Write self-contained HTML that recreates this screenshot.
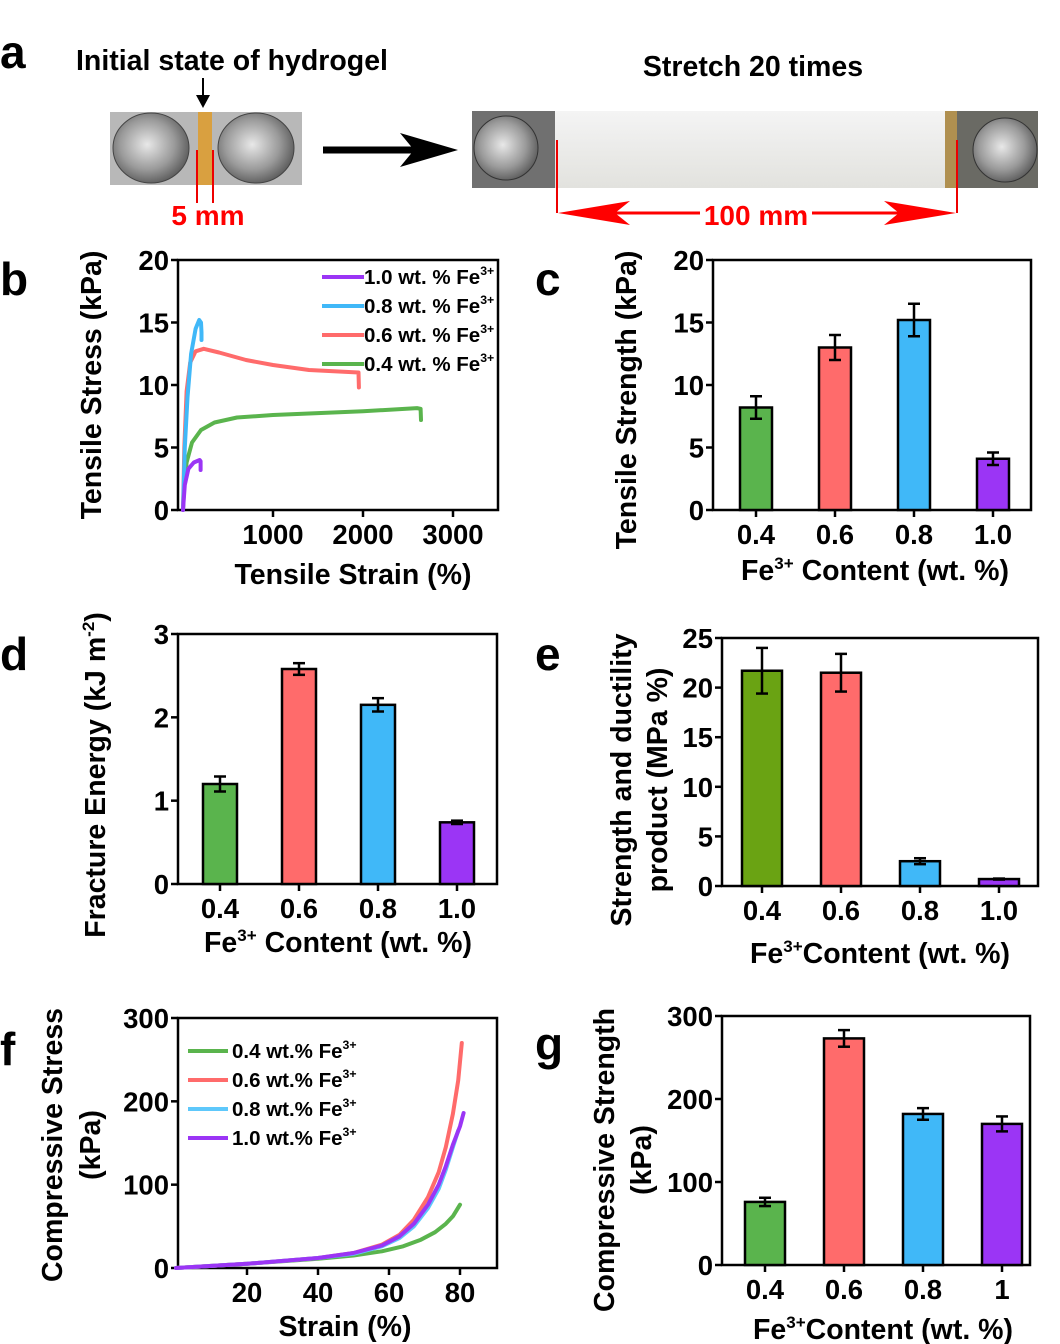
<!DOCTYPE html>
<html><head><meta charset="utf-8"><style>
html,body{margin:0;padding:0;background:#fff;}
svg{display:block;font-family:"Liberation Sans",Arial,sans-serif;font-weight:bold;}
</style></head><body>
<svg id="fig" width="1060" height="1344" viewBox="0 0 1060 1344" xmlns="http://www.w3.org/2000/svg">
<defs>
<radialGradient id="metal" cx="0.45" cy="0.45" r="0.6"><stop offset="0" stop-color="#e8e8e8"/><stop offset="0.6" stop-color="#9a9a9a"/><stop offset="1" stop-color="#555"/></radialGradient>
<linearGradient id="gel" x1="0" y1="0" x2="0" y2="1"><stop offset="0" stop-color="#f4f4f4"/><stop offset="1" stop-color="#e2e2de"/></linearGradient>
</defs>
<g>
<text x="0" y="68" font-size="46">a</text>
<text x="232" y="70" font-size="28.5" text-anchor="middle">Initial state of hydrogel</text>
<text x="753" y="76" font-size="28.5" text-anchor="middle">Stretch 20 times</text>
<g>
<rect x="110" y="112" width="192" height="73" fill="#b8b8b8"/>
<ellipse cx="151" cy="148" rx="38" ry="35" fill="url(#metal)" stroke="#444"/>
<ellipse cx="256" cy="148" rx="38" ry="35" fill="url(#metal)" stroke="#444"/>
<rect x="198" y="112" width="14" height="73" fill="#d9a040"/>
</g>
<line x1="203" y1="78" x2="203" y2="105" stroke="#000" stroke-width="2"/>
<polygon points="196,95 210,95 203,108" fill="#000"/>
<line x1="197" y1="150" x2="197" y2="203" stroke="#e00" stroke-width="2"/>
<line x1="213" y1="150" x2="213" y2="203" stroke="#e00" stroke-width="2"/>
<text x="208" y="225" font-size="28" fill="#f00" text-anchor="middle">5 mm</text>
<line x1="323" y1="150" x2="420" y2="150" stroke="#000" stroke-width="7"/>
<polygon points="400,133 458,150 400,167 414,150" fill="#000"/>
<g>
<rect x="472" y="111" width="566" height="77" fill="url(#gel)"/>
<rect x="472" y="111" width="83" height="77" fill="#707070"/>
<ellipse cx="506" cy="148" rx="32" ry="32" fill="url(#metal)" stroke="#333"/>
<rect x="945" y="111" width="93" height="77" fill="#6a6a64"/>
<rect x="945" y="111" width="12" height="77" fill="#b09050"/>
<ellipse cx="1005" cy="150" rx="32" ry="32" fill="url(#metal)" stroke="#333"/>
</g>
<line x1="557" y1="140" x2="557" y2="213" stroke="#e00" stroke-width="2"/>
<line x1="957" y1="140" x2="957" y2="213" stroke="#e00" stroke-width="2"/>
<line x1="580" y1="213" x2="700" y2="213" stroke="#f00" stroke-width="3"/>
<line x1="812" y1="213" x2="935" y2="213" stroke="#f00" stroke-width="3"/>
<polygon points="558,213 630,201 615,213 630,225" fill="#f00"/>
<polygon points="956,213 884,201 899,213 884,225" fill="#f00"/>
<text x="756" y="225" font-size="28" fill="#f00" text-anchor="middle">100 mm</text>
</g>
<text x="0" y="295" font-size="46">b</text>
<text x="535" y="295" font-size="46">c</text>
<text x="0" y="670" font-size="46">d</text>
<text x="535" y="670" font-size="46">e</text>
<text x="0" y="1065" font-size="46">f</text>
<text x="535" y="1060" font-size="46">g</text>
<g id="charts"></g>
</svg>
<script>
// ---- panel b data ----
const bSeriesNames = ["1.0 wt. % Fe", "0.8 wt. % Fe", "0.6 wt. % Fe", "0.4 wt. % Fe"];
const bYTicks = [0, 5, 10, 15, 20];
const bXTicks = [1000, 2000, 3000];
const bPurple = [[0,0],[20,2],[60,3.3],[120,3.8],[185,4.0],[195,3.9],[196,3.2]];
const bBlue = [[0,0],[20,5],[50,9],[90,12.5],[140,14.5],[180,15.2],[200,15.0],[206,14.2],[206,13.6]];
const bPink = [[0,0],[15,5],[40,9.5],[80,11.8],[140,12.7],[230,12.9],[400,12.6],[700,12.0],[1000,11.6],[1400,11.2],[1950,11.0],[1955,9.8]];
const bGreen = [[0,0],[15,2],[40,3.8],[100,5.4],[200,6.4],[350,7.0],[600,7.4],[1000,7.6],[1500,7.75],[2000,7.9],[2600,8.15],[2640,8.1],[2645,7.2]];
// ---- panel c data ----
const cCats = ["0.4","0.6","0.8","1.0"];
const cVals = [8.2, 13.0, 15.2, 4.1];
const cErrs = [0.9, 1.0, 1.3, 0.5];
const cTicks = [0,5,10,15,20];
// ---- panel d data ----
const dCats = ["0.4","0.6","0.8","1.0"];
const dVals = [1.2, 2.58, 2.15, 0.74];
const dErrs = [0.09, 0.07, 0.08, 0.02];
const dTicks = [0,1,2,3];
// ---- panel e data ----
const eCats = ["0.4","0.6","0.8","1.0"];
const eVals = [21.7, 21.5, 2.5, 0.7];
const eErrs = [2.3, 1.9, 0.3, 0.05];
const eTicks = [0,5,10,15,20,25];
// ---- panel f data ----
const fSeriesNames = ["0.4 wt.% Fe", "0.6 wt.% Fe", "0.8 wt.% Fe", "1.0 wt.% Fe"];
const fXTicks = [20,40,60,80];
const fYTicks = [0,100,200,300];
const fGreen = [[0,0],[20,5],[40,11],[50,15],[58,20],[64,26],[69,34],[73,43],[76,53],[78,62],[80,76]];
const fPink = [[0,0],[20,5],[40,12],[50,18],[58,28],[63,40],[67,58],[71,85],[74,115],[76,145],[78,185],[79.5,225],[80.5,270]];
const fBlue = [[0,0],[20,5],[40,12],[50,17],[58,26],[63,36],[67,50],[71,72],[74,95],[76,118],[78,145],[79.5,165]];
const fPurple = [[0,0],[20,5],[40,12],[50,18],[58,27],[63,38],[67,53],[71,76],[74,100],[76,122],[78,148],[80,170],[81,186]];
// ---- panel g data ----
const gCats = ["0.4","0.6","0.8","1"];
const gVals = [76, 273, 182, 170];
const gErrs = [5, 10, 7, 9];
const gTicks = [0,100,200,300];

const COLORS = {green:"#5ab44d", pink:"#ff6b6b", blue:"#40b8f8", purple:"#9b35f5", egreen:"#6aa313"};
const TICK_FS = 27.5, TITLE_FS = 28.5, SUP_FS = 17;
const NS = "http://www.w3.org/2000/svg";
const root = document.getElementById('charts');
function mk(tag, attrs, parent){const e=document.createElementNS(NS,tag);for(const k in attrs)e.setAttribute(k,attrs[k]);(parent||root).appendChild(e);return e;}
function txt(x,y,s,size,anchor,parent,rot){const t=mk('text',{x:x,y:y,'font-size':size,'text-anchor':anchor||'middle'},parent);if(rot)t.setAttribute('transform','rotate(-90 '+x+' '+y+')');t.innerHTML=s;return t;}
function sup(s){return '<tspan font-size="'+SUP_FS+'" dy="-11">'+s+'</tspan>';}

function frame(b){
  const r=mk('rect',{x:b.l,y:b.t,width:b.r-b.l,height:b.bt-b.t,fill:'none',stroke:'#000','stroke-width':2.5});
  
  
}
function yAxis(b,ticks,ymax){
  const g=mk('g',{});
  
  
  ticks.forEach(v=>{const y=b.bt-(v/ymax)*(b.bt-b.t);
    mk('line',{x1:b.l-7,x2:b.l,y1:y,y2:y,stroke:'#000','stroke-width':2.5},g);
    txt(b.l-9,y+10,v,TICK_FS,'end',g);});
}
function xAxisNum(b,ticks,sx){
  const g=mk('g',{});
  
  
  ticks.forEach(v=>{const x=sx(v);
    mk('line',{x1:x,x2:x,y1:b.bt,y2:b.bt+7,stroke:'#000','stroke-width':2.5},g);
    txt(x,b.bt+34,v,TICK_FS,'middle',g);});
}
function barChart(b,cats,vals,errs,ymax,ticks,cols,bw,first,step){
  frame(b);
  yAxis(b,ticks,ymax);
  const sy=v=>b.bt-(v/ymax)*(b.bt-b.t);
  const gx=mk('g',{});
  
  
  cats.forEach((c,i)=>{
    const x=first+i*step;
    const bar=mk('rect',{x:x-bw/2,y:sy(vals[i]),width:bw,height:b.bt-sy(vals[i]),fill:cols[i],stroke:'#000','stroke-width':2.5});
    
    
    const eg=mk('g',{stroke:'#000','stroke-width':2.5});
    
    
    const y1=sy(vals[i]+errs[i]),y2=sy(vals[i]-errs[i]);
    mk('line',{x1:x,x2:x,y1:y1,y2:y2},eg);
    mk('line',{x1:x-6,x2:x+6,y1:y1,y2:y1},eg);
    mk('line',{x1:x-6,x2:x+6,y1:y2,y2:y2},eg);
    mk('line',{x1:x,x2:x,y1:b.bt,y2:b.bt+7,stroke:'#000','stroke-width':2.5},gx);
    txt(x,b.bt+34,c,TICK_FS,'middle',gx);
  });
}
function lineSeries(pts,sx,sy,col,name){
  const d=pts.map((p,i)=>(i?'L':'M')+sx(p[0]).toFixed(1)+','+sy(p[1]).toFixed(1)).join(' ');
  const p=mk('path',{d:d,fill:'none',stroke:col,'stroke-width':4,'stroke-linejoin':'round','stroke-linecap':'round'});
  
  
}
function legend(x,y,dy,names,cols,len,fs,gap){
  names.forEach((n,i)=>{
    const g=mk('g',{});
    
    
    mk('line',{x1:x,x2:x+len,y1:y+i*dy,y2:y+i*dy,stroke:cols[i],'stroke-width':4},g);
    txt(x+len+(gap||0),y+i*dy+7,n+'<tspan font-size="'+(fs*0.6)+'" dy="-9">3+</tspan>',fs,'start',g);
  });
}

// ---- panel b ----
(function(){
  const b={l:178,r:498,t:260,bt:510};
  const sx=v=>183+v*0.09, sy=v=>b.bt-v*12.5;
  frame(b); yAxis(b,bYTicks,20); xAxisNum(b,bXTicks,sx);
  lineSeries(bGreen,sx,sy,COLORS.green,'series-0.4');
  lineSeries(bPink,sx,sy,COLORS.pink,'series-0.6');
  lineSeries(bBlue,sx,sy,COLORS.blue,'series-0.8');
  lineSeries(bPurple,sx,sy,COLORS.purple,'series-1.0');
  legend(322,277,29,bSeriesNames,[COLORS.purple,COLORS.blue,COLORS.pink,COLORS.green],42,20.5,0);
  txt(353,584,'Tensile Strain (%)',TITLE_FS,'middle');
  txt(101,385,'Tensile Stress (kPa)',TITLE_FS,'middle',null,true);
})();
// ---- panel c ----
barChart({l:713,r:1031,t:260,bt:510},cCats,cVals,cErrs,20,cTicks,[COLORS.green,COLORS.pink,COLORS.blue,COLORS.purple],32,756,79);
txt(875,580,'Fe'+sup('3+')+'<tspan dy="11"> Content (wt. %)</tspan>',TITLE_FS,'middle');
txt(636,400,'Tensile Strength (kPa)',TITLE_FS,'middle',null,true);
// ---- panel d ----
barChart({l:178,r:497,t:634,bt:884},dCats,dVals,dErrs,3,dTicks,[COLORS.green,COLORS.pink,COLORS.blue,COLORS.purple],34,220,79);
txt(338,952,'Fe'+sup('3+')+'<tspan dy="11"> Content (wt. %)</tspan>',TITLE_FS,'middle');
txt(105,775,'Fracture Energy (kJ m'+sup('-2')+'<tspan dy="11">)</tspan>',TITLE_FS,'middle',null,true);
// ---- panel e ----
barChart({l:722,r:1038,t:638,bt:886},eCats,eVals,eErrs,25,eTicks,[COLORS.egreen,COLORS.pink,COLORS.blue,COLORS.purple],40,762,79);
txt(880,963,'Fe'+sup('3+')+'<tspan dy="11">Content (wt. %)</tspan>',TITLE_FS,'middle');
txt(631,780,'Strength and ductility',TITLE_FS,'middle',null,true);
txt(667,780,'product (MPa %)',TITLE_FS,'middle',null,true);
// ---- panel f ----
(function(){
  const b={l:178,r:497,t:1018,bt:1268};
  const sx=v=>176+v*3.55, sy=v=>b.bt-v*(250/300);
  frame(b); yAxis(b,fYTicks,300); xAxisNum(b,fXTicks,sx);
  lineSeries(fGreen,sx,sy,COLORS.green,'series-0.4');
  lineSeries(fPink,sx,sy,COLORS.pink,'series-0.6');
  lineSeries(fBlue,sx,sy,'#5ec8fb','series-0.8');
  lineSeries(fPurple,sx,sy,COLORS.purple,'series-1.0');
  legend(188,1051,29,fSeriesNames,[COLORS.green,COLORS.pink,'#5ec8fb',COLORS.purple],40,20.5,4);
  txt(345,1336,'Strain (%)',TITLE_FS,'middle');
  txt(62,1145,'Compressive Stress',TITLE_FS,'middle',null,true);
  txt(100,1145,'(kPa)',TITLE_FS,'middle',null,true);
})();
// ---- panel g ----
barChart({l:722,r:1030,t:1016,bt:1265},gCats,gVals,gErrs,300,gTicks,[COLORS.green,COLORS.pink,COLORS.blue,COLORS.purple],40,765,79);
txt(883,1339,'Fe'+sup('3+')+'<tspan dy="11">Content (wt. %)</tspan>',TITLE_FS,'middle');
txt(614,1160,'Compressive Strength',TITLE_FS,'middle',null,true);
txt(651,1160,'(kPa)',TITLE_FS,'middle',null,true);
</script>
</body></html>
